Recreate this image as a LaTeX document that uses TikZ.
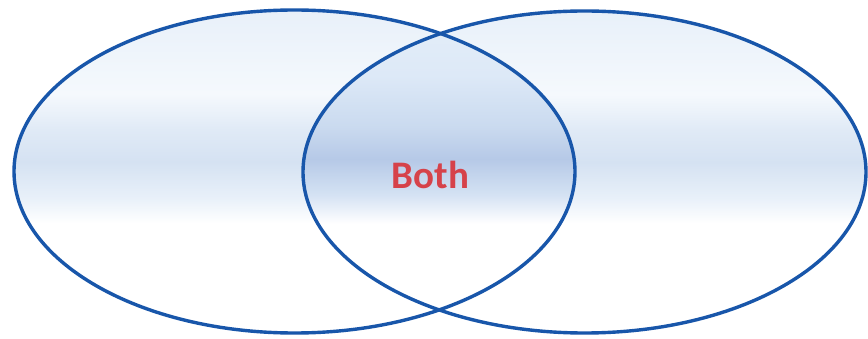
\documentclass[tikz,border=0pt]{standalone}
\usepackage{fontspec}
\setmainfont{Carlito}
\definecolor{rimblue}{RGB}{24,86,170}
\definecolor{bothred}{RGB}{214,66,74}
% path box maps onto 25bp..75bp of the shading
\pgfdeclareverticalshading{outershade}{100bp}{%
  color(0bp)=(white);
  color(42bp)=(white);
  color(46bp)=(rgb,255:red,232;green,240;blue,249);
  color(51.5bp)=(rgb,255:red,213;green,226;blue,242);
  color(56.5bp)=(rgb,255:red,224;green,234;blue,246);
  color(62bp)=(rgb,255:red,245;green,249;blue,253);
  color(75bp)=(rgb,255:red,232;green,240;blue,249);
  color(100bp)=(rgb,255:red,232;green,240;blue,249)}
\pgfdeclareverticalshading{innershade}{100bp}{%
  color(0bp)=(white);
  color(42bp)=(white);
  color(46.5bp)=(rgb,255:red,212;green,226;blue,243);
  color(52bp)=(rgb,255:red,182;green,201;blue,231);
  color(57bp)=(rgb,255:red,202;green,218;blue,239);
  color(65bp)=(rgb,255:red,221;green,233;blue,247);
  color(75bp)=(rgb,255:red,228;green,238;blue,249);
  color(100bp)=(rgb,255:red,228;green,238;blue,249)}
\tikzset{
  rim/.style={draw=rimblue, line width=3.4pt},
  label/.style={font=\bfseries\fontsize{39}{39}\selectfont, text=bothred, inner sep=0pt}
}
\begin{document}
\begin{tikzpicture}[x=1pt,y=-1pt]
\useasboundingbox (0,0) rectangle (868,339);
\fill[white] (0,0) rectangle (868,339);
% left and right fills
\shade[shading=outershade]
  (294.5,171.5) ellipse [x radius=280.5, y radius=161.5];
\shade[shading=outershade]
  (584.5,172) ellipse [x radius=281.5, y radius=161];
% intersection
\begin{scope}
  \clip (294.5,171.5) ellipse [x radius=280.5, y radius=161.5];
  \shade[shading=innershade]
    (584.5,172) ellipse [x radius=281.5, y radius=161];
\end{scope}
% outlines
\draw[rim] (294.5,171.5) ellipse [x radius=280.5, y radius=161.5];
\draw[rim] (584.5,172) ellipse [x radius=281.5, y radius=161];
\node[label] (both) at (430.5,174.5) {Both};
\end{tikzpicture}
\end{document}
